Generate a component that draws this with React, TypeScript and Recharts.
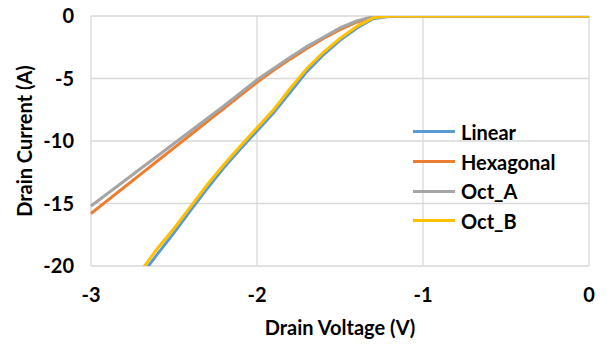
import { LineChart, Line, XAxis, YAxis, CartesianGrid, Legend } from "recharts";

// drain voltage, V
const VOLTAGE = [
  -3.0, -2.9, -2.8, -2.7, -2.6, -2.5, -2.4, -2.3, -2.2, -2.1, -2.0,
  -1.9, -1.8, -1.7, -1.6, -1.5, -1.4, -1.3, -1.2, -1.1, -1.0,
  -0.8, -0.6, -0.4, -0.2, 0.0,
];

// drain current, A (null = off the chart)
const LINEAR = [
  null, null, null, -20.8, -19.05, -17.35, -15.55, -13.8, -12.15, -10.65, -9.2,
  -7.75, -6.1, -4.45, -3.1, -1.95, -0.98, -0.22, -0.02, 0, 0,
  0, 0, 0, 0, 0,
];
const HEXAGONAL = [
  -15.8, -14.75, -13.7, -12.65, -11.6, -10.55, -9.5, -8.45, -7.4, -6.35, -5.3,
  -4.35, -3.45, -2.6, -1.8, -1.1, -0.5, -0.08, 0, 0, 0,
  0, 0, 0, 0, 0,
];
const OCT_A = [
  -15.2, -14.2, -13.2, -12.2, -11.2, -10.2, -9.2, -8.2, -7.2, -6.15, -5.1,
  -4.2, -3.3, -2.45, -1.7, -0.95, -0.4, -0.05, 0, 0, 0,
  0, 0, 0, 0, 0,
];
const OCT_B = [
  null, null, null, -20.4, -18.6, -17.0, -15.25, -13.5, -11.9, -10.4, -8.95,
  -7.5, -5.8, -4.2, -2.9, -1.8, -0.85, -0.15, 0, 0, 0,
  0, 0, 0, 0, 0,
];

const X_TICKS = [-3, -2, -1, 0];
const Y_TICKS = [-20, -15, -10, -5, 0];

const SERIES = [
  { key: "Linear", values: LINEAR, color: "#5B9BD5" },
  { key: "Hexagonal", values: HEXAGONAL, color: "#ED7D31" },
  { key: "Oct_A", values: OCT_A, color: "#A5A5A5" },
  { key: "Oct_B", values: OCT_B, color: "#FFC000" },
];

const FONT = "Lato, 'Open Sans', sans-serif";

const data = VOLTAGE.map((v, i) => {
  const row: Record<string, number | null> = { v };
  for (const s of SERIES) row[s.key] = s.values[i];
  return row;
});

const tickStyle = { fill: "#000", fontSize: 20, fontWeight: 700, fontFamily: FONT };

function LegendBox() {
  return (
    <div style={{ fontFamily: FONT, fontWeight: 700, fontSize: 20, color: "#000" }}>
      {SERIES.map((s) => (
        <div key={s.key} style={{ display: "flex", alignItems: "center", height: 29.7 }}>
          <span style={{ width: 42, height: 3, background: s.color, marginRight: 6 }} />
          <span>{s.key}</span>
        </div>
      ))}
    </div>
  );
}

export default function App() {
  return (
    <div style={{ position: "absolute", left: 0, top: 0, width: 607, height: 345, background: "#fff" }}>
      <LineChart
        width={607}
        height={345}
        data={data}
        margin={{ top: 16, right: 18, left: 0, bottom: 0 }}
      >
        <CartesianGrid stroke="#D9D9D9" strokeWidth={1.3} horizontalValues={Y_TICKS} verticalValues={X_TICKS} />
        <XAxis
          dataKey="v"
          type="number"
          domain={[-3, 0]}
          ticks={X_TICKS}
          height={79}
          tickSize={0}
          tickMargin={22}
          axisLine={false}
          tickLine={false}
          tick={tickStyle}
          label={{
            value: "Drain Voltage (V)",
            position: "insideBottom",
            offset: 10,
            style: { fill: "#000", fontSize: 20, fontWeight: 700, fontFamily: FONT },
          }}
        />
        <YAxis
          type="number"
          domain={[-20, 0]}
          ticks={Y_TICKS}
          allowDataOverflow
          width={91}
          tickSize={0}
          tickMargin={17}
          axisLine={false}
          tickLine={false}
          tick={tickStyle}
          label={{
            value: "Drain Current (A)",
            angle: -90,
            position: "insideLeft",
            offset: 25,
            style: { fill: "#000", fontSize: 20, fontWeight: 700, fontFamily: FONT, textAnchor: "middle" },
          }}
        />
        {SERIES.map((s) => (
          <Line
            key={s.key}
            dataKey={s.key}
            stroke={s.color}
            strokeWidth={3}
            dot={false}
            type="linear"
            connectNulls={false}
            isAnimationActive={false}
          />
        ))}
        <Legend
          layout="vertical"
          align="center"
          verticalAlign="middle"
          wrapperStyle={{ position: "absolute", left: 413, top: 117, width: 150 }}
          content={() => <LegendBox />}
        />
      </LineChart>
    </div>
  );
}
